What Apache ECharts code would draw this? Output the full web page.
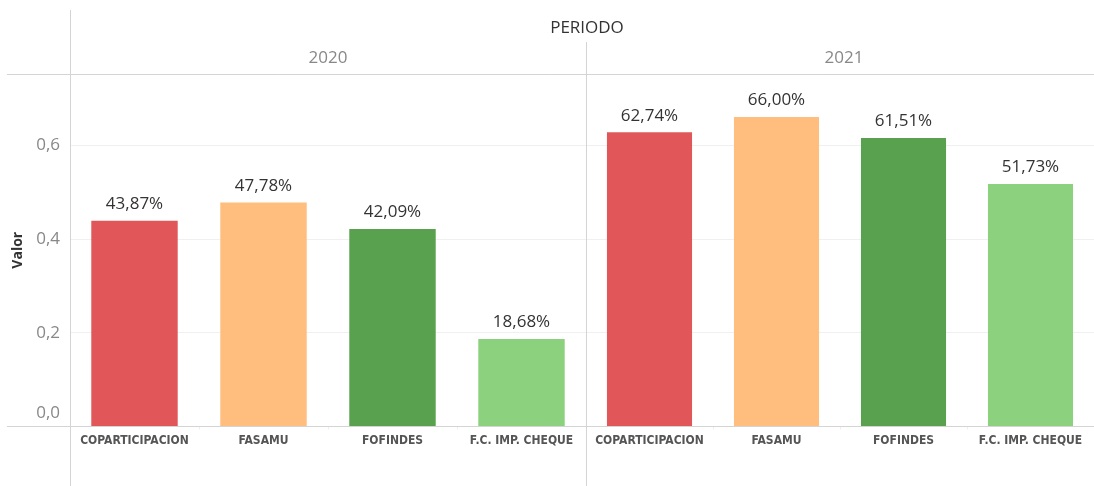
<!DOCTYPE html>
<html>
<head>
<meta charset="utf-8">
<script src="https://cdn.jsdelivr.net/npm/echarts@6/dist/echarts.min.js"></script>
<style>
  html, body { margin: 0; padding: 0; background: #fff; }
  #chart { width: 1094px; height: 486px; }
</style>
</head>
<body>
<div id="chart"></div>
<script>
// datos del gráfico
var periods = ['2020', '2021'];
var categories = ['COPARTICIPACION', 'FASAMU', 'FOFINDES', 'F.C. IMP. CHEQUE'];
var values2020 = [0.4387, 0.4778, 0.4209, 0.1868];
var values2021 = [0.6274, 0.6600, 0.6151, 0.5173];

var colors = ['#E15759', '#FFBE7D', '#59A14F', '#8CD17D'];
var lineColor = '#d4d4d4';
var gridColor = '#f0f0f0';

var panelLeft = 70, panelWidth = 516, plotTop = 74, plotBottom = 426.5;
var labelFont = '"Liberation Sans Narrow", "DejaVu Sans Condensed", "Open Sans", sans-serif';
var textFont = '"Open Sans", sans-serif';

function pct(v) {
    return (v * 100).toFixed(2).replace('.', ',') + '%';
}

function buildGrid(i) {
    return { left: panelLeft + i * panelWidth, top: plotTop, width: panelWidth, height: plotBottom - plotTop };
}

function buildXAxis(i) {
    return {
        type: 'category', gridIndex: i, data: categories,
        axisLine: { show: false },
        axisTick: { show: true, alignWithLabel: false, length: 3, lineStyle: { color: '#eeeeee' } },
        axisLabel: { color: '#555', fontSize: 12, fontWeight: 'bold', fontFamily: labelFont, margin: 8, interval: 0 }
    };
}

function buildYAxis(i) {
    return {
        type: 'value', gridIndex: i, min: 0, max: 0.7516, interval: 0.2,
        name: i === 0 ? 'Valor' : '', nameLocation: 'middle', nameRotate: 90, nameGap: 45,
        nameTextStyle: { color: '#333', fontSize: 14, fontWeight: 'bold', fontFamily: textFont },
        axisLine: { show: false }, axisTick: { show: false },
        splitLine: { show: true, lineStyle: { color: gridColor, width: 1 } },
        axisLabel: {
            show: i === 0, showMaxLabel: false, color: '#888', fontSize: 17, margin: 10,
            fontFamily: textFont,
            formatter: function (v) {
                var s = v.toFixed(1).replace('.', ',');
                return v === 0 ? '{z|' + s + '}' : s;
            },
            rich: { z: { color: '#888', fontSize: 17, fontFamily: textFont, padding: [0, 0, 26, 0] } }
        }
    };
}

function buildSeries(i, values) {
    return {
        type: 'bar', xAxisIndex: i, yAxisIndex: i, barWidth: '67%',
        data: values.map(function (v, k) {
            return { value: v, itemStyle: { color: colors[k] } };
        }),
        label: {
            show: true, position: 'top', distance: 8, color: '#333', fontSize: 17,
            fontFamily: textFont,
            formatter: function (p) { return pct(p.value); }
        },
        animation: false
    };
}

function hline(y, x1, x2) {
    return { type: 'line', shape: { x1: x1, y1: y, x2: x2, y2: y }, style: { stroke: lineColor, lineWidth: 1 }, z: 10 };
}
function vline(x, y1, y2) {
    return { type: 'line', shape: { x1: x, y1: y1, x2: x, y2: y2 }, style: { stroke: lineColor, lineWidth: 1 }, z: 10 };
}
function text(str, cx, cy, color) {
    return {
        type: 'text', x: cx, y: cy, z: 10,
        style: { text: str, fill: color, fontSize: 17, fontFamily: textFont, align: 'center', verticalAlign: 'middle' }
    };
}

var chart = echarts.init(document.getElementById('chart'));
chart.setOption({
    animation: false,
    grid: [buildGrid(0), buildGrid(1)],
    xAxis: [buildXAxis(0), buildXAxis(1)],
    yAxis: [buildYAxis(0), buildYAxis(1)],
    series: [buildSeries(0, values2020), buildSeries(1, values2021)],
    graphic: [
        hline(74.5, 7, 1094),
        hline(426.5, 7, 1094),
        vline(70.5, 10, 486),
        vline(586.5, 42, 486),
        text('PERIODO', 587, 28, '#333'),
        text(periods[0], panelLeft + panelWidth / 2, 58, '#888'),
        text(periods[1], panelLeft + panelWidth * 1.5, 58, '#888')
    ]
});
</script>
</body>
</html>
